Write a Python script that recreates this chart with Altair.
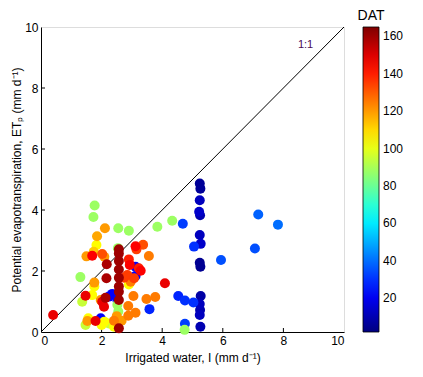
import altair as alt
import pandas as pd

# Irrigated water I (mm/d)
irrig = [1.77, 1.73, 2.11, 2.55, 2.90, 1.85, 1.83, 1.74, 1.50, 1.69, 2.02, 2.09, 2.54, 2.57,
         3.12, 3.15, 3.37, 3.56, 3.84, 4.33, 4.68, 2.57, 2.57, 2.57, 2.57, 2.57, 2.57, 2.57,
         2.57, 2.17, 2.16, 2.13, 2.90, 2.93, 3.12, 3.23, 3.29, 3.12, 3.07, 2.96, 2.90, 2.74,
         1.30, 1.76, 1.76, 4.09, 1.47, 1.69, 1.36, 1.97, 2.35, 2.24, 2.52, 2.08, 2.02, 2.52,
         2.55, 3.05, 3.48, 3.77, 2.88, 3.12, 2.88, 3.58, 0.40, 1.56, 1.53, 1.47, 1.80, 1.97,
         2.09, 2.00, 2.24, 2.41, 2.50, 2.66, 2.41, 4.53, 4.75, 5.03, 4.75, 4.74, 5.05, 2.85,
         5.24, 5.26, 5.24, 5.22, 5.25, 5.24, 5.27, 5.24, 5.26, 5.27, 5.24, 5.25, 5.24, 5.26,
         7.17, 7.82, 7.06, 5.94]
# Potential evapotranspiration ETp (mm/d)
etp = [4.15, 3.77, 3.40, 3.40, 3.32, 3.14, 2.85, 2.63, 2.48, 2.50, 2.56, 2.47, 2.75, 2.71,
       2.81, 2.71, 2.86, 2.49, 3.45, 3.65, 3.55, 2.57, 2.33, 2.05, 1.78, 1.49, 1.32, 1.05,
       0.12, 2.22, 1.76, 1.12, 2.38, 2.20, 2.14, 2.09, 2.01, 1.84, 1.76, 1.65, 1.56, 1.78,
       1.80, 1.62, 1.49, 1.60, 1.19, 1.21, 0.99, 1.05, 1.25, 1.16, 1.05, 0.83, 0.99, 0.89,
       0.67, 1.18, 1.08, 1.15, 0.85, 0.63, 0.53, 0.75, 0.56, 0.45, 0.36, 0.23, 0.36, 0.45,
       0.34, 0.23, 0.28, 0.37, 0.52, 0.37, 0.17, 1.18, 1.03, 0.97, 0.27, 0.07, 2.80, 1.87,
       4.87, 4.70, 4.32, 3.94, 3.83, 3.18, 2.89, 2.27, 2.14, 1.18, 0.92, 0.72, 0.56, 0.17,
       3.85, 3.52, 2.74, 2.36]
# Days after transplanting
dat = [88, 88, 120, 88, 88, 118, 104, 112, 120, 145, 132, 120, 88, 160,
       145, 135, 132, 125, 88, 88, 32, 160, 160, 160, 160, 160, 160, 160,
       160, 158, 158, 158, 140, 145, 22, 140, 145, 22, 135, 125, 104, 135,
       88, 120, 104, 148, 148, 104, 95, 120, 22, 22, 22, 148, 148, 88,
       88, 125, 125, 125, 125, 125, 125, 28, 148, 104, 120, 95, 148, 22,
       104, 104, 95, 125, 120, 120, 104, 28, 30, 30, 32, 88, 30, 135,
       6, 6, 12, 14, 10, 12, 14, 5, 5, 8, 12, 10, 12, 10,
       38, 40, 35, 35]

xticks = [2, 4, 6, 8]
yticks = [2, 4, 6, 8]
legend_ticks = [20, 40, 60, 80, 100, 120, 140, 160]

df = pd.DataFrame({"I": irrig, "ETp": etp, "DAT": dat}).sort_values("DAT")

lo, hi = 2, 165
stops = [0, 0.125, 0.375, 0.625, 0.875, 1.0]
jet = ["#00007F", "#0000FF", "#00FFFF", "#FFFF00", "#FF0000", "#7F0000"]
dom = [lo + s * (hi - lo) for s in stops]

FONT = "Liberation Sans"
W, H = 303, 305

xs = alt.Scale(domain=[0, 10], nice=False)
ys = alt.Scale(domain=[0, 10], nice=False)

points = alt.Chart(df).mark_circle(size=100, opacity=1).encode(
    x=alt.X("I:Q", scale=xs,
            axis=alt.Axis(values=[0, 2, 4, 6, 8, 10], title="Irrigated water, I (mm d⁻¹)",
                          grid=False, ticks=False, labelPadding=3, domainColor="black",
                          labelColor="black", titleColor="black", titleFontWeight="normal",
                          labelFontSize=12, titleFontSize=12, titlePadding=6,
                          labelFont=FONT, titleFont=FONT)),
    y=alt.Y("ETp:Q", scale=ys,
            axis=alt.Axis(values=[0, 2, 4, 6, 8, 10],
                          title="Potential evapotranspiration, ETₚ (mm d⁻¹)",
                          grid=False, ticks=False, labelPadding=3, domainColor="black",
                          labelColor="black", titleColor="black", titleFontWeight="normal",
                          labelFontSize=12, titleFontSize=12, titlePadding=1,
                          labelFont=FONT, titleFont=FONT)),
    color=alt.Color("DAT:Q",
                    scale=alt.Scale(domain=dom, range=jet, interpolate="rgb"),
                    legend=alt.Legend(title=None, orient="none", legendX=W + 19, legendY=0,
                                      gradientLength=H, gradientThickness=16,
                                      values=legend_ticks, labelFontSize=12, labelFont=FONT,
                                      labelColor="black", gradientStrokeColor="black",
                                      gradientStrokeWidth=0.8, labelOffset=4)),
)

line = alt.Chart(pd.DataFrame({"I": [0, 10], "ETp": [0, 10]})).mark_line(
    color="black", strokeWidth=1).encode(x=alt.X("I:Q", scale=xs), y=alt.Y("ETp:Q", scale=ys))

xt = alt.Chart(pd.DataFrame({"v": xticks})).mark_rule(color="black", strokeWidth=1).encode(
    x=alt.X("v:Q", scale=xs), y=alt.value(H), y2=alt.value(H - 4))
yt = alt.Chart(pd.DataFrame({"v": yticks})).mark_rule(color="black", strokeWidth=1).encode(
    y=alt.Y("v:Q", scale=ys), x=alt.value(0), x2=alt.value(4))

label11 = alt.Chart(pd.DataFrame({"I": [8.73], "ETp": [9.41], "t": ["1:1"]})).mark_text(
    font=FONT, fontSize=11, color="#4B0A55").encode(
    x=alt.X("I:Q", scale=xs), y=alt.Y("ETp:Q", scale=ys), text="t:N")

dat_title = alt.Chart(pd.DataFrame({"t": ["DAT"]})).mark_text(
    font=FONT, fontSize=14, color="black", align="center", baseline="bottom").encode(
    x=alt.value(W + 19 + 8), y=alt.value(-4), text="t:N")

chart = alt.layer(xt, yt, line, points, label11, dat_title).properties(
    width=W, height=H,
    padding={"left": 2, "top": 1, "right": 5, "bottom": 5}
).configure_view(stroke="black", strokeWidth=1).configure(background="white")

chart.save("out.html", embed_options={"renderer": "svg", "actions": False})
